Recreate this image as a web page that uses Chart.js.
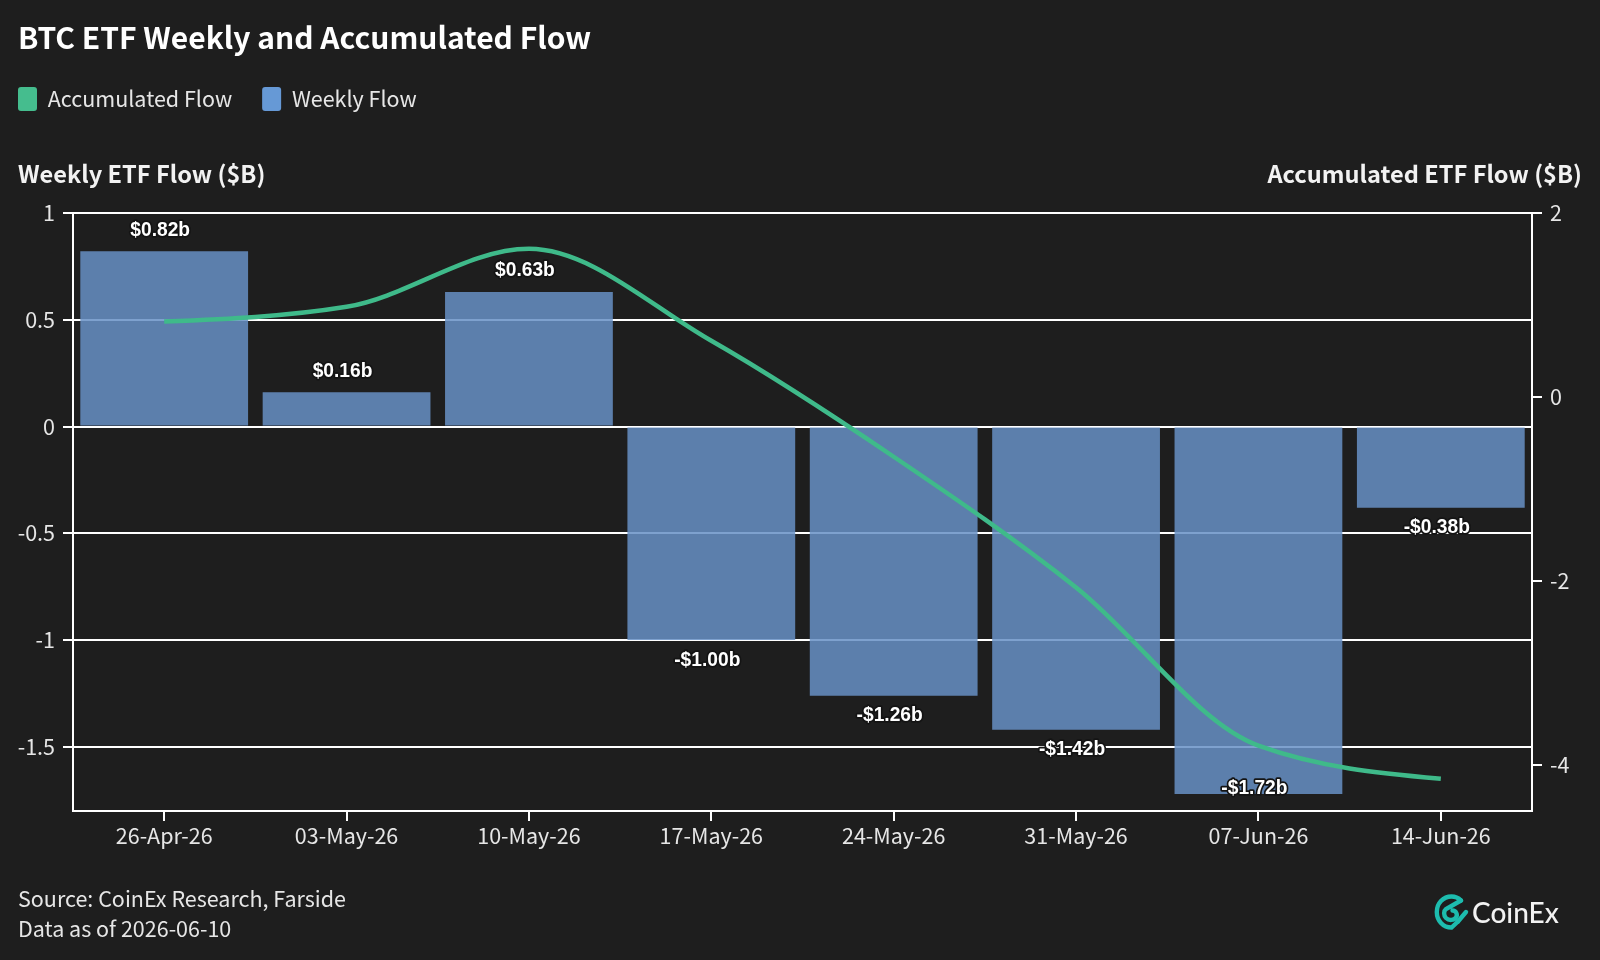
<!DOCTYPE html>
<html>
<head>
<meta charset="utf-8">
<title>BTC ETF Weekly and Accumulated Flow</title>
<script src="https://cdn.jsdelivr.net/npm/chart.js@4"></script>
<style>
  html, body { margin: 0; padding: 0; background: #1e1e1e; }
  #wrap { position: relative; width: 1600px; height: 960px; overflow: hidden; font-family: "Noto Sans CJK SC", "Noto Sans", sans-serif; }
  canvas { position: absolute; left: 0; top: 0; }
  .note { position: absolute; color: #e6e6e6; white-space: nowrap; }
  #rightTitle { right: 18px; top: 157px; font-size: 23.6px; line-height: 33px; font-weight: 700; color: #f2f2f2; }
  #footer { left: 18px; top: 883px; font-size: 21.5px; line-height: 30px; }
  #logo { position: absolute; left: 1434px; top: 894px; width: 36px; height: 36px; }
  #brand { left: 1472px; top: 892px; font-family: Lato, sans-serif; font-size: 28px; line-height: 40px; font-weight: 500; color: #f2f2f2; }
</style>
</head>
<body>
<div id="wrap">
  <canvas id="chart" width="1600" height="960"></canvas>
  <div class="note" id="rightTitle">Accumulated ETF Flow ($B)</div>
  <div class="note" id="footer">Source: CoinEx Research, Farside<br>Data as of 2026-06-10</div>
  <svg id="logo" viewBox="0 0 36 36" fill="none" stroke="#1dbcae" stroke-width="4.4" stroke-linecap="round">
    <path d="M27 6.5 C24 3.5 20.5 2.5 17.5 2.5 C9 2.5 2.8 9.5 2.8 18 C2.8 26.5 9 33.5 17.5 33.5 L24 27.5"/>
    <path d="M27 6.5 L12 15 C9.5 17 9.5 21.5 12 24 C15 26.8 20 26.5 22 23.5 C24 20.5 22 16.5 18.5 16.5"/>
    <path d="M24 27.5 L32 18"/>
  </svg>
  <div class="note" id="brand">CoinEx</div>
</div>
<script>
const FONT = '"Noto Sans CJK SC", "Noto Sans", sans-serif';

const weeks = ['26-Apr-26', '03-May-26', '10-May-26', '17-May-26', '24-May-26', '31-May-26', '07-Jun-26', '14-Jun-26'];
const weeklyFlow = [0.82, 0.16, 0.63, -1.00, -1.26, -1.42, -1.72, -0.38];
const accumulatedFlow = [0.82, 0.98, 1.61, 0.61, -0.65, -2.07, -3.79, -4.15];
const weeklyTicks = [1, 0.5, 0, -0.5, -1, -1.5];
const accumulatedTicks = [2, 0, -2, -4];

// Dollar labels above positive bars and below negative ones, kept inside the plot area.
const barValueLabels = {
  id: 'barValueLabels',
  afterDatasetsDraw(chart) {
    const { ctx, chartArea } = chart;
    const bars = chart.getDatasetMeta(1).data;
    ctx.save();
    ctx.font = 'bold 20px "Liberation Sans", Arial, sans-serif';
    ctx.textAlign = 'center';
    ctx.textBaseline = 'middle';
    ctx.lineJoin = 'round';
    bars.forEach((bar, i) => {
      const v = weeklyFlow[i];
      const text = (v < 0 ? '-$' : '$') + Math.abs(v).toFixed(2) + 'b';
      const y = Math.min(bar.y + (v < 0 ? 20 : -21), chartArea.bottom - 23);
      ctx.save();
      ctx.translate(bar.x - 4, y);
      ctx.scale(0.96, 1);
      ctx.strokeStyle = '#141414';
      ctx.lineWidth = 3.5;
      ctx.strokeText(text, 0, 0);
      ctx.fillStyle = '#ffffff';
      ctx.fillText(text, 0, 0);
      ctx.restore();
    });
    ctx.restore();
  }
};

// The legend box starts flush with the title rather than one item gap in.
const legendFlushLeft = {
  id: 'legendFlushLeft',
  afterLayout(chart) {
    chart.legend.left -= chart.options.plugins.legend.labels.padding;
  }
};

// Monotone-X tangents for the accumulated curve: interior slopes limited by the
// smaller neighbouring secant, end slopes derived from the adjacent tangent.
const monotoneXCurve = {
  id: 'monotoneXCurve',
  beforeDatasetsDraw(chart) {
    const line = chart.getDatasetMeta(0).dataset;
    line.updateControlPoints(chart.chartArea, 'x');
    const pts = line.points;
    const n = pts.length;
    const secant = i => (pts[i + 1].y - pts[i].y) / (pts[i + 1].x - pts[i].x);
    const slopes = pts.map((p, i) => {
      if (i === 0 || i === n - 1) return 0;
      const s0 = secant(i - 1), s1 = secant(i);
      return (Math.sign(s0) + Math.sign(s1)) * Math.min(Math.abs(s0), Math.abs(s1), 0.25 * Math.abs(s0 + s1));
    });
    slopes[0] = (3 * secant(0) - slopes[1]) / 2;
    slopes[n - 1] = (3 * secant(n - 2) - slopes[n - 2]) / 2;
    pts.forEach((p, i) => {
      if (i < n - 1) {
        const dx = (pts[i + 1].x - p.x) / 3;
        p.cp2x = p.x + dx;
        p.cp2y = p.y + slopes[i] * dx;
      }
      if (i > 0) {
        const dx = (p.x - pts[i - 1].x) / 3;
        p.cp1x = p.x - dx;
        p.cp1y = p.y - slopes[i] * dx;
      }
    });
  }
};

const tickFont = { family: FONT, size: 21.5 };
const tickText = value => String(value);

new Chart(document.getElementById('chart'), {
  data: {
    labels: weeks,
    datasets: [
      {
        type: 'line',
        label: 'Accumulated Flow',
        data: accumulatedFlow,
        yAxisID: 'y1',
        order: 0,
        borderColor: '#3fba8a',
        backgroundColor: '#3fba8a',
        borderWidth: 4.5,
        pointRadius: 0,
        cubicInterpolationMode: 'monotone',
        fill: false
      },
      {
        type: 'bar',
        label: 'Weekly Flow',
        data: weeklyFlow,
        yAxisID: 'y',
        order: 1,
        backgroundColor: 'rgba(103,144,198,0.85)',
        borderWidth: 0,
        barPercentage: 0.92,
        categoryPercentage: 1
      }
    ]
  },
  plugins: [barValueLabels, legendFlushLeft, monotoneXCurve],
  options: {
    responsive: false,
    animation: false,
    layout: { padding: { left: 18, right: 18, top: 0, bottom: 0 } },
    plugins: {
      tooltip: { enabled: false },
      title: {
        display: true,
        text: 'BTC ETF Weekly and Accumulated Flow',
        align: 'start',
        color: '#ffffff',
        font: { family: FONT, size: 30, weight: '700' },
        padding: { top: 20, bottom: 1 }
      },
      legend: {
        position: 'top',
        align: 'start',
        labels: {
          color: '#e6e6e6',
          font: { family: FONT, size: 21.5 },
          boxWidth: 19,
          boxHeight: 24,
          padding: 30,
          useBorderRadius: true,
          borderRadius: 3,
          generateLabels(chart) {
            return chart.data.datasets.map((d, i) => ({
              text: d.label,
              fillStyle: i === 0 ? '#45bd8e' : '#6699d6',
              strokeStyle: 'transparent',
              lineWidth: 0,
              fontColor: '#e6e6e6',
              borderRadius: 3,
              datasetIndex: i
            }));
          }
        }
      },
      subtitle: {
        display: true,
        text: 'Weekly ETF Flow ($B)',
        align: 'start',
        position: 'top',
        weight: 500,
        color: '#f2f2f2',
        font: { family: FONT, size: 23.6, weight: '700' },
        padding: { top: 38.6, bottom: 25 }
      }
    },
    scales: {
      x: {
        type: 'category',
        border: { color: '#ffffff', width: 2 },
        grid: { drawOnChartArea: false, offset: false, color: '#ffffff', lineWidth: 2, tickLength: 10 },
        ticks: { color: '#e6e6e6', font: tickFont, padding: 2, maxRotation: 0 },
        afterFit(scale) { scale.height = 149; }
      },
      y: {
        position: 'left',
        min: -1.8,
        max: 1,
        border: { color: '#ffffff', width: 2 },
        grid: { color: '#ffffff', lineWidth: 2, tickLength: 10 },
        ticks: { color: '#e6e6e6', font: tickFont, padding: 8, callback: tickText },
        afterBuildTicks(scale) { scale.ticks = weeklyTicks.map(value => ({ value })); },
        afterFit(scale) { scale.width = 55; }
      },
      y1: {
        position: 'right',
        min: -4.5,
        max: 2,
        border: { color: '#ffffff', width: 2 },
        grid: { drawOnChartArea: false, color: '#ffffff', lineWidth: 2, tickLength: 10 },
        ticks: { color: '#e6e6e6', font: tickFont, padding: 8, callback: tickText },
        afterBuildTicks(scale) { scale.ticks = accumulatedTicks.map(value => ({ value })); },
        afterFit(scale) { scale.width = 50; }
      }
    }
  }
});
</script>
</body>
</html>
